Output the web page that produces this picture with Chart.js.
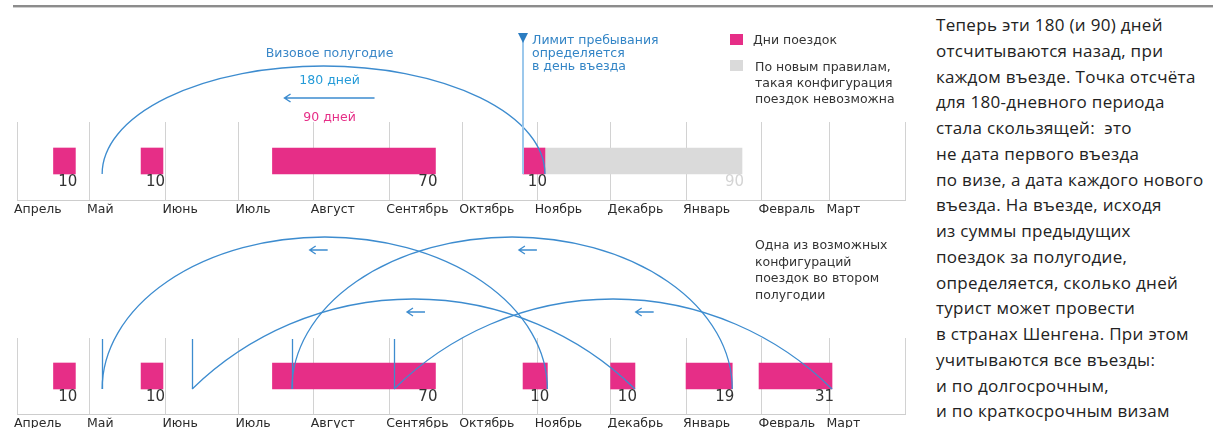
<!DOCTYPE html>
<html lang="ru">
<head>
<meta charset="utf-8">
<script src="https://cdn.jsdelivr.net/npm/chart.js@4.4.1/dist/chart.umd.min.js"></script>
<style>
  body { margin: 0; width: 1213px; height: 428px; background: #fff; position: relative; overflow: hidden; font-family: "DejaVu Sans", sans-serif; }
  .rule { position: absolute; left: 13px; right: 0; top: 5px; height: 2px; background: #8c8c8c; border-bottom: 1px solid #cfcfcf; }
  .wrap { position: absolute; left: 0; width: 920px; }
  #top-wrap { top: 0; height: 220px; }
  #bottom-wrap { top: 220px; height: 208px; }
  .note { position: absolute; font-size: 12.5px; line-height: 16px; color: #333; white-space: nowrap; }
  .swatch { position: absolute; width: 13px; height: 11px; }
  .limit { position: absolute; left: 532px; top: 33px; font-size: 12.5px; line-height: 13px; color: #3385c6; white-space: nowrap; }
  .text { position: absolute; left: 936px; top: 12px; font-family: "Open Sans", sans-serif; font-size: 17px; line-height: 25.75px; color: #222; white-space: nowrap; letter-spacing: 0.3px; }
</style>
</head>
<body>
<div class="rule"></div>
<div class="wrap" id="top-wrap"><canvas id="chart-top" width="920" height="220"></canvas></div>
<div class="wrap" id="bottom-wrap"><canvas id="chart-bottom" width="920" height="208"></canvas></div>

<div class="limit">Лимит пребывания<br>определяется<br>в день въезда</div>
<div class="swatch" style="left:730px;top:34px;background:#e62e87"></div>
<div class="note" style="left:753px;top:32px">Дни поездок</div>
<div class="swatch" style="left:730px;top:60px;background:#dadada"></div>
<div class="note" style="left:755px;top:59px">По новым правилам,<br>такая конфигурация<br>поездок невозможна</div>
<div class="note" style="left:755px;top:237px;line-height:16.7px">Одна из возможных<br>конфигураций<br>поездок во втором<br>полугодии</div>

<div class="text">Теперь эти 180 (и 90) дней<br>отсчитываются назад, при<br>каждом въезде. Точка отсчёта<br>для 180-дневного периода<br>стала скользящей:&nbsp; это<br>не дата первого въезда<br>по визе, а дата каждого нового<br>въезда. На въезде, исходя<br>из суммы предыдущих<br>поездок за полугодие,<br>определяется, сколько дней<br>турист может провести<br>в странах Шенгена. При этом<br>учитываются все въезды:<br>и по долгосрочным,<br>и по краткосрочным визам</div>

<script>
// days counted from 1 April
const monthLabels = ['Апрель', 'Май', 'Июнь', 'Июль', 'Август', 'Сентябрь', 'Октябрь', 'Ноябрь', 'Декабрь', 'Январь', 'Февраль', 'Март'];
const monthStartDays = [0, 30, 61, 91, 122, 153, 183, 214, 244, 275, 306, 334, 365];

// first half-year: trips and the blocked remainder
const tripsTop = [[15, 24], [51, 60], [105, 172], [208, 217]];
const tripLabelsTop = ['10', '10', '70', '10'];
const blockedTop = [[217, 298]];
const blockedLabelsTop = ['90'];
const windowTop = [[35, 217]];
const limitDay = 208;

// second half-year: one possible configuration
const tripsBottom = [[15, 24], [51, 60], [105, 172], [208, 218], [244, 254], [275, 294], [305, 335]];
const tripLabelsBottom = ['10', '10', '70', '10', '10', '19', '31'];
const windowsBottom = [[35, 218], [72, 254], [113, 294], [155, 335]];
const windowsBottomTall = [true, false, true, false];
const arrowDaysBottom = [124, 164, 210, 258];

const PINK = '#e62e87';
const GREY_BAR = '#dadada';
const BLUE = '#3d8ccf';

function drawArrow(ctx, x1, x2, y) {
  ctx.beginPath();
  ctx.moveTo(x2, y);
  ctx.lineTo(x1, y);
  ctx.moveTo(x1 + 6, y - 4);
  ctx.lineTo(x1, y);
  ctx.lineTo(x1 + 6, y + 4);
  ctx.stroke();
}

// ellipse for tall windows, circle segment for low ones
function drawWindow(ctx, x1, x2, base, h, tall) {
  const cx = (x1 + x2) / 2, half = (x2 - x1) / 2;
  ctx.beginPath();
  if (tall) {
    ctx.ellipse(cx, base, half, h, 0, Math.PI, 2 * Math.PI);
  } else {
    const r = (half * half + h * h) / (2 * h);
    const cy = base - h + r;
    const a1 = Math.atan2(base - cy, x1 - cx);
    const a2 = Math.atan2(base - cy, x2 - cx);
    ctx.arc(cx, cy, r, a1, a2);
  }
  ctx.stroke();
}

const valueLabels = {
  id: 'valueLabels',
  afterDatasetsDraw(chart, args, opts) {
    const ctx = chart.ctx;
    ctx.save();
    ctx.font = '15px "DejaVu Sans"';
    ctx.textAlign = 'right';
    ctx.textBaseline = 'top';
    chart.data.datasets.forEach((ds, i) => {
      ctx.fillStyle = ds.labelColor;
      chart.getDatasetMeta(i).data.forEach((bar, j) => {
        ctx.fillText(ds.valueLabels[j], bar.x + 2, bar.y + bar.height / 2 + 1);
      });
    });
    ctx.restore();
  }
};

const windowsPlugin = {
  id: 'windows',
  afterDatasetsDraw(chart, args, opts) {
    const {ctx, chartArea} = chart;
    const x = chart.scales.x;
    const bar = chart.getDatasetMeta(0).data[0];
    const base = bar.y + bar.height / 2;
    ctx.save();
    ctx.strokeStyle = BLUE;
    ctx.lineWidth = 1.3;
    opts.windows.forEach((w, i) => {
      const x1 = x.getPixelForValue(w[0]);
      const x2 = x.getPixelForValue(w[1]);
      drawWindow(ctx, x1, x2, base, opts.tall[i] ? opts.tallH : opts.lowH, opts.tall[i]);
      if (opts.startTicks) {
        ctx.beginPath();
        ctx.moveTo(Math.round(x1) + 0.5, chartArea.top + 1);
        ctx.lineTo(Math.round(x1) + 0.5, base);
        ctx.stroke();
      }
    });
    (opts.arrows || []).forEach((d, i) => {
      const cx = x.getPixelForValue(d);
      const y = base - (opts.tall[i] ? opts.tallH : opts.lowH) + 13;
      drawArrow(ctx, cx - 9, cx + 9, y);
    });
    if (opts.limitDay !== undefined) {
      const lx = Math.round(x.getPixelForValue(opts.limitDay));
      ctx.strokeStyle = '#9cc8ec';
      ctx.lineWidth = 2;
      ctx.beginPath();
      ctx.moveTo(lx, 38);
      ctx.lineTo(lx, base);
      ctx.stroke();
      ctx.fillStyle = '#2b7cc1';
      ctx.beginPath();
      ctx.moveTo(lx - 5, 33);
      ctx.lineTo(lx + 5, 33);
      ctx.lineTo(lx, 43);
      ctx.closePath();
      ctx.fill();
    }
    if (opts.caption) {
      const w = opts.windows[0];
      const cx = (x.getPixelForValue(w[0]) + x.getPixelForValue(w[1])) / 2 + 6;
      const peak = base - opts.tallH;
      ctx.font = '12.5px "DejaVu Sans"';
      ctx.textAlign = 'center';
      ctx.textBaseline = 'middle';
      ctx.fillStyle = '#3a87c8';
      ctx.fillText('Визовое полугодие', cx, peak - 12);
      ctx.fillStyle = '#259bd8';
      ctx.fillText('180 дней', cx, peak + 15);
      ctx.strokeStyle = '#3d8ccf';
      ctx.lineWidth = 1.5;
      drawArrow(ctx, cx - 45, cx + 45, peak + 32);
      ctx.fillStyle = PINK;
      ctx.fillText('90 дней', cx, peak + 52);
    }
    ctx.restore();
  }
};

function makeChart(id, datasets, thickness, padTop, axisH, windowOpts) {
  return new Chart(document.getElementById(id), {
    type: 'bar',
    data: {
      labels: ['row'],
      datasets: datasets.map(d => ({
        data: d.bars.map(b => ({ x: b, y: 'row' })),
        backgroundColor: d.color,
        barThickness: thickness,
        grouped: false,
        valueLabels: d.labels,
        labelColor: d.labelColor
      }))
    },
    options: {
      indexAxis: 'y',
      responsive: false,
      animation: false,
      layout: { padding: { top: padTop, left: 17, right: 15, bottom: 0 } },
      plugins: { legend: { display: false }, tooltip: { enabled: false }, windows: windowOpts },
      scales: {
        x: {
          type: 'linear',
          min: 0,
          max: 365,
          afterBuildTicks: s => { s.ticks = monthStartDays.map(v => ({ value: v })); },
          afterFit: s => { s.height = axisH; s.paddingLeft = 0; s.paddingRight = 0; },
          grid: { color: '#d2d2d2', drawTicks: false },
          border: { color: '#cdcdcd' },
          ticks: {
            autoSkip: false,
            maxRotation: 0,
            align: 'start',
            labelOffset: -3,
            padding: 2,
            color: '#2a2a2a',
            font: { family: 'DejaVu Sans', size: 12.5 },
            callback: (v, i) => monthLabels[i] || ''
          }
        },
        y: { type: 'category', display: false }
      }
    },
    plugins: [windowsPlugin, valueLabels]
  });
}

makeChart('chart-top', [
  { bars: tripsTop, color: PINK, labels: tripLabelsTop, labelColor: '#333' },
  { bars: blockedTop, color: GREY_BAR, labels: blockedLabelsTop, labelColor: '#d4d4d4' }
], 26, 122, 20, {
  windows: windowTop, tall: [true], tallH: 108, lowH: 0, limitDay: limitDay, caption: true
});

makeChart('chart-bottom', [
  { bars: tripsBottom, color: PINK, labels: tripLabelsBottom, labelColor: '#333' }
], 26, 118, 14, {
  windows: windowsBottom, tall: windowsBottomTall, tallH: 152, lowH: 90, startTicks: true, arrows: arrowDaysBottom
});
</script>
</body>
</html>
